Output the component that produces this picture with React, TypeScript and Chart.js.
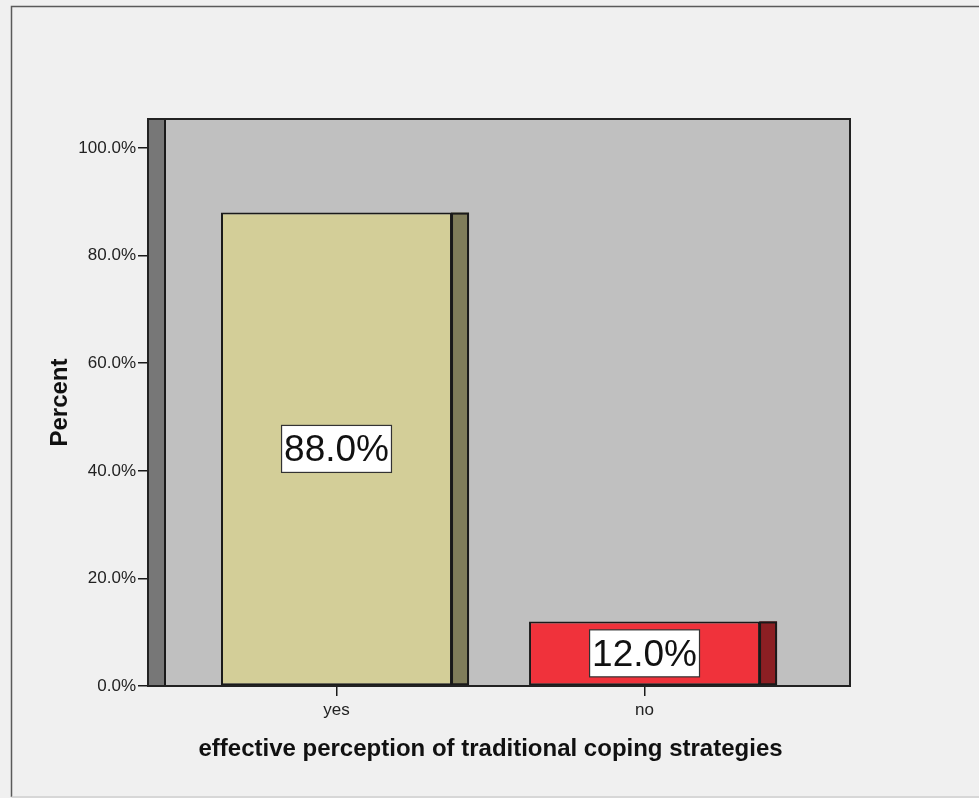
import React, { useEffect, useRef } from "react";
import { Chart, registerables } from "chart.js";

Chart.register(...registerables);

const categories = ["yes", "no"];
const percentValues = [88.0, 12.0];
const yTicks = [0, 20, 40, 60, 80, 100];
const frontColors = ["#d3ce98", "#f0323b"];
const sideColors = ["#807d5a", "#8c1f23"];
const xTitle = "effective perception of traditional coping strategies";
const yTitle = "Percent";

const W = 979;
const H = 798;
const DEPTH = 17;
const FONT = "'Liberation Sans', Arial, sans-serif";

const decorPlugin = {
  id: "spssDecor",
  beforeDraw(chart: any) {
    const { ctx, chartArea: a } = chart;
    ctx.save();
    ctx.fillStyle = "#f0f0f0";
    ctx.fillRect(0, 0, W, H);
    // outer frame
    ctx.strokeStyle = "#5a5a5a";
    ctx.lineWidth = 1.5;
    ctx.beginPath();
    ctx.moveTo(W + 5, 6.5);
    ctx.lineTo(11.5, 6.5);
    ctx.lineTo(11.5, 797);
    ctx.stroke();
    ctx.strokeStyle = "#cfcfcf";
    ctx.beginPath();
    ctx.moveTo(11.5, 797);
    ctx.lineTo(W + 5, 797);
    ctx.stroke();
    // plot background
    ctx.fillStyle = "#c0c0c0";
    ctx.fillRect(a.left, a.top, a.right - a.left, a.bottom - a.top);
    // left 3D wall
    ctx.fillStyle = "#777777";
    ctx.fillRect(a.left, a.top, DEPTH, a.bottom - a.top);
    ctx.strokeStyle = "#1a1a1a";
    ctx.lineWidth = 2;
    ctx.strokeRect(a.left, a.top, DEPTH, a.bottom - a.top);
    ctx.restore();
  },
  afterDatasetsDraw(chart: any) {
    const { ctx, chartArea: a } = chart;
    const meta = chart.getDatasetMeta(0);
    ctx.save();
    // side faces of the bars, outlined inside their own edges
    meta.data.forEach((el: any, i: number) => {
      const x0 = el.x + el.width / 2;
      const h = el.base - el.y;
      ctx.fillStyle = sideColors[i];
      ctx.fillRect(x0, el.y, DEPTH, h);
      ctx.strokeStyle = "#1a1a1a";
      ctx.lineWidth = 2;
      ctx.strokeRect(x0, el.y + 1, DEPTH - 1, h - 2);
    });
    // plot frame
    ctx.strokeStyle = "#222222";
    ctx.lineWidth = 2;
    ctx.strokeRect(a.left, a.top, a.right - a.left, a.bottom - a.top);
    // value labels
    ctx.font = `37px ${FONT}`;
    ctx.textAlign = "center";
    ctx.textBaseline = "middle";
    meta.data.forEach((el: any, i: number) => {
      const text = percentValues[i].toFixed(1) + "%";
      const cy = (el.y + el.base) / 2;
      const tw = ctx.measureText(text).width;
      const bw = tw + 5;
      const bh = 47;
      ctx.fillStyle = "#ffffff";
      ctx.fillRect(el.x - bw / 2, cy - bh / 2, bw, bh);
      ctx.strokeStyle = "#333333";
      ctx.lineWidth = 1.2;
      ctx.strokeRect(el.x - bw / 2, cy - bh / 2, bw, bh);
      ctx.fillStyle = "#111111";
      ctx.fillText(text, el.x, cy + 2);
    });
    // axis titles
    const xs = chart.scales.x;
    ctx.fillStyle = "#111111";
    ctx.font = `bold 24px ${FONT}`;
    ctx.textAlign = "center";
    ctx.textBaseline = "alphabetic";
    const cx = (xs.getPixelForValue(0) + xs.getPixelForValue(categories.length - 1)) / 2;
    ctx.fillText(xTitle, cx, 756);
    ctx.translate(67, (a.top + a.bottom) / 2);
    ctx.rotate(-Math.PI / 2);
    ctx.fillText(yTitle, 0, 0);
    ctx.restore();
  },
};

export default function App() {
  const ref = useRef<HTMLCanvasElement | null>(null);

  useEffect(() => {
    document.body.style.margin = "0";
    const canvas = ref.current;
    if (!canvas) return;
    const chart = new Chart(canvas, {
      type: "bar",
      data: {
        datasets: [
          {
            data: percentValues.map((v, i) => ({ x: i, y: v })),
            backgroundColor: frontColors,
            borderColor: "#1a1a1a",
            borderWidth: 2,
            borderSkipped: false,
            barPercentage: 0.75,
            categoryPercentage: 1,
          },
        ],
      },
      options: {
        responsive: false,
        animation: false,
        devicePixelRatio: 1,
        layout: { padding: { top: 119, right: 129, left: 0, bottom: 0 } },
        plugins: {
          legend: { display: false },
          tooltip: { enabled: false },
        },
        scales: {
          x: {
            type: "linear",
            offset: false,
            min: -0.612,
            max: 1.667,
            afterBuildTicks: (s: any) => {
              s.ticks = categories.map((_, i) => ({ value: i }));
            },
            afterFit: (s: any) => {
              s.height = 112;
            },
            border: { display: false },
            grid: {
              display: true,
              offset: false,
              drawOnChartArea: false,
              drawTicks: true,
              tickLength: 10,
              color: "#1a1a1a",
              lineWidth: 1.5,
            },
            ticks: {
              padding: 4,
              color: "#222222",
              font: { family: FONT, size: 17 },
              callback: (v: any) => categories[Number(v)] ?? "",
            },
          },
          y: {
            min: 0,
            max: 105.4,
            afterBuildTicks: (s: any) => {
              s.ticks = yTicks.map((v) => ({ value: v }));
            },
            afterFit: (s: any) => {
              s.width = 148;
            },
            border: { display: false },
            grid: {
              display: true,
              drawOnChartArea: false,
              drawTicks: true,
              tickLength: 10,
              color: "#1a1a1a",
              lineWidth: 1.5,
            },
            ticks: {
              padding: 2,
              color: "#222222",
              font: { family: FONT, size: 17 },
              callback: (v: any) => Number(v).toFixed(1) + "%",
            },
          },
        },
      },
      plugins: [decorPlugin],
    });
    return () => chart.destroy();
  }, []);

  return (
    <div style={{ position: "absolute", left: 0, top: 0, width: W, height: H }}>
      <canvas ref={ref} width={W} height={H} />
    </div>
  );
}
